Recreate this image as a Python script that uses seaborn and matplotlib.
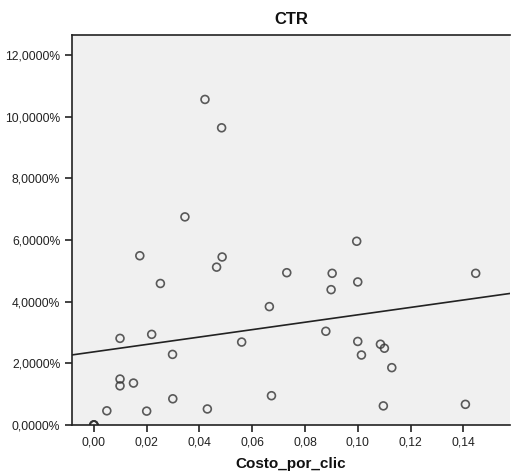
import matplotlib
matplotlib.use("Agg")
import matplotlib.pyplot as plt
import matplotlib.ticker as mticker
import seaborn as sns
import numpy as np
import pandas as pd

# Four observations sit at (0, 0) and overlap
costo_por_clic = [0.0421, 0.0484, 0.0345, 0.0174, 0.0486, 0.0465, 0.0252, 0.0099,
                  0.0219, 0.0298, 0.0560, 0.0099, 0.0099, 0.0150, 0.0299, 0.0049,
                  0.0200, 0.0430, 0.0000, 0.0996, 0.0731, 0.0903, 0.1447, 0.1000,
                  0.0899, 0.0665, 0.0879, 0.1000, 0.1086, 0.1101, 0.1014, 0.1129,
                  0.0673, 0.1097, 0.1408, 0.0000, 0.0000, 0.0000]
ctr = [10.56, 9.64, 6.75, 5.49, 5.45, 5.12, 4.59, 2.81,
       2.94, 2.29, 2.69, 1.49, 1.27, 1.36, 0.85, 0.46,
       0.45, 0.52, 0.00, 5.96, 4.94, 4.92, 4.92, 4.64,
       4.39, 3.84, 3.04, 2.71, 2.62, 2.49, 2.27, 1.86,
       0.95, 0.62, 0.67, 0.00, 0.00, 0.00]

xticks = [0.00, 0.02, 0.04, 0.06, 0.08, 0.10, 0.12, 0.14]
yticks = [0, 2, 4, 6, 8, 10, 12]

df = pd.DataFrame({"Costo_por_clic": costo_por_clic, "CTR": ctr})

sns.set_style("white")
plt.rcParams['font.family'] = ['Liberation Sans', 'DejaVu Sans']

fig = plt.figure(figsize=(5.11, 4.74), dpi=100)
ax = fig.add_axes([72/511, 49/474, (510-72)/511, (425-35)/474])
ax.set_facecolor("#F0F0F0")
ax.set_xlim(-0.0083, 0.1577)
ax.set_ylim(0, 12.65)

sns.regplot(data=df, x="Costo_por_clic", y="CTR", ax=ax, ci=None, truncate=False,
            scatter_kws=dict(s=32, facecolors="none", edgecolors="#333333",
                             linewidths=1.2),
            line_kws=dict(color="#222222", lw=1.2))
for coll in ax.collections:
    coll.set_clip_on(True)
    coll.set_clip_box(ax.bbox)

ax.set_xlim(-0.0083, 0.1577)
ax.set_ylim(0, 12.65)
ax.set_xticks(xticks)
ax.set_yticks(yticks)
ax.xaxis.set_major_formatter(mticker.FuncFormatter(lambda v, p: f"{v:.2f}".replace(".", ",")))
ax.yaxis.set_major_formatter(mticker.FuncFormatter(lambda v, p: f"{v:.4f}".replace(".", ",") + "%"))
ax.tick_params(axis="both", direction="out", length=5, width=1.2, color="#222222",
               labelsize=8.7, labelcolor="#222222", bottom=True, left=True)
for side in ["left", "bottom", "top"]:
    ax.spines[side].set_color("#222222")
    ax.spines[side].set_linewidth(1.2)
ax.spines["right"].set_visible(False)

ax.set_xlabel("Costo_por_clic", fontsize=11, fontweight="bold", color="#111111", labelpad=6)
ax.set_ylabel("")
ax.set_title("CTR", fontsize=12, fontweight="bold", color="#111111", pad=8)

fig.savefig("out.png", dpi=100)
